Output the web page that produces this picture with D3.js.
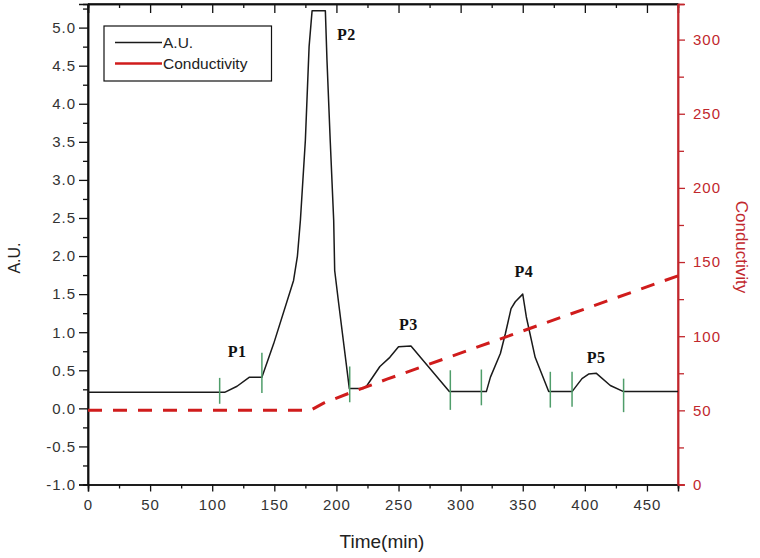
<!DOCTYPE html>
<html>
<head>
<meta charset="utf-8">
<script src="https://cdn.jsdelivr.net/npm/d3@7/dist/d3.min.js"></script>
<style>
  html, body { margin: 0; padding: 0; background: #fff; }
  svg { display: block; }
</style>
</head>
<body>
<svg id="chart" width="760" height="558"></svg>
<script>
// ---------------- data ----------------
const auTime = [0, 110, 120, 130, 140, 149.5, 165.5, 168.6, 171, 175, 178, 180.4, 191.1, 192.4, 195, 197.8, 198.6, 201.8, 210.4, 221.4, 224.6, 235, 243, 250, 260, 290.9, 320.7, 324, 332, 336, 340.6, 344, 350, 352.9, 360, 370.9, 389.7, 397.7, 403, 409.3, 420.5, 431.2, 475];
const auValue = [0.21, 0.21, 0.29, 0.41, 0.41, 0.85, 1.68, 2.0, 2.47, 3.52, 4.75, 5.22, 5.22, 4.57, 3.52, 2.47, 1.81, 1.38, 0.26, 0.26, 0.30, 0.55, 0.67, 0.81, 0.82, 0.22, 0.22, 0.41, 0.72, 0.98, 1.31, 1.40, 1.50, 1.20, 0.67, 0.22, 0.22, 0.39, 0.45, 0.46, 0.30, 0.22, 0.22];

const condTime = [0, 179, 190, 210, 240.7, 463.5, 475];
const condValue = [50, 50, 55, 61.5, 71, 137.3, 140.7];

// fraction-cut markers: time, low/high in A.U.
const markerTime = [106, 140, 210.7, 291.7, 316.7, 372.2, 389.7, 431.2];
const markerLow  = [0.06, 0.20, 0.08, -0.02, 0.04, 0.01, 0.02, -0.05];
const markerHigh = [0.40, 0.73, 0.55, 0.50, 0.51, 0.48, 0.48, 0.39];

// peak labels
const peakNames = ["P1", "P2", "P3", "P4", "P5"];
const peakTime  = [120, 208, 258, 351, 409];
const peakValue = [0.68, 4.84, 1.03, 1.72, 0.60];

const xTicks = [0, 50, 100, 150, 200, 250, 300, 350, 400, 450];
const xMinor = [25, 75, 125, 175, 225, 275, 325, 375, 425, 475];
const yTicks = [-1.0, -0.5, 0.0, 0.5, 1.0, 1.5, 2.0, 2.5, 3.0, 3.5, 4.0, 4.5, 5.0];
const yMinor = [-0.75, -0.25, 0.25, 0.75, 1.25, 1.75, 2.25, 2.75, 3.25, 3.75, 4.25, 4.75, 5.25];
const y2Ticks = [0, 50, 100, 150, 200, 250, 300];
const y2Minor = [25, 75, 125, 175, 225, 275];

const seriesNames = ["A.U.", "Conductivity"];

// ---------------- layout ----------------
const W = 760, H = 558;
const L = 88, R = 678, T = 4, B = 484.5;
const red = "#c1272d";
const textGray = "#333";
const green = "#4f9d6a";

const svg = d3.select("#chart");
const x = d3.scaleLinear().domain([0, 475]).range([L, R]);
const y = d3.scaleLinear().domain([-1, 5.31]).range([B, T]);
const y2 = d3.scaleLinear().domain([0, 324]).range([B, T]);

const fontAxis = "'Liberation Sans', Arial, sans-serif";

function styleAxis(g, color) {
  g.selectAll("path").attr("stroke", color).attr("stroke-width", 1.5);
  g.selectAll("line").attr("stroke", color).attr("stroke-width", 1.3);
  g.selectAll("text").attr("fill", color === "#111" ? textGray : color)
    .style("font-family", fontAxis).style("font-size", "15px").style("letter-spacing", "1px");
}

// bottom axis
const gxMinor = svg.append("g").attr("transform", `translate(0,${B})`)
  .call(d3.axisBottom(x).tickValues(xMinor).tickSize(4).tickFormat(""));
styleAxis(gxMinor, "#111");
const gx = svg.append("g").attr("transform", `translate(0,${B})`)
  .call(d3.axisBottom(x).tickValues(xTicks).tickSize(7).tickPadding(8).tickFormat(d3.format("d")));
styleAxis(gx, "#111");

// top axis (ticks inward)
const gtMinor = svg.append("g").attr("transform", `translate(0,${T})`)
  .call(d3.axisBottom(x).tickValues(xMinor.filter(v => v < 475)).tickSize(4).tickFormat(""));
styleAxis(gtMinor, "#111");
const gt = svg.append("g").attr("transform", `translate(0,${T})`)
  .call(d3.axisBottom(x).tickValues(xTicks).tickSize(9).tickFormat(""));
styleAxis(gt, "#111");

// left axis
const gyMinor = svg.append("g").attr("transform", `translate(${L},0)`)
  .call(d3.axisLeft(y).tickValues(yMinor).tickSize(5).tickFormat(""));
styleAxis(gyMinor, "#111");
const gy = svg.append("g").attr("transform", `translate(${L},0)`)
  .call(d3.axisLeft(y).tickValues(yTicks).tickSize(9).tickPadding(3).tickFormat(d => d.toFixed(1)));
styleAxis(gy, "#111");

// right axis
const gy2Minor = svg.append("g").attr("transform", `translate(${R},0)`)
  .call(d3.axisRight(y2).tickValues(y2Minor).tickSize(6).tickFormat(""));
styleAxis(gy2Minor, red);
const gy2 = svg.append("g").attr("transform", `translate(${R},0)`)
  .call(d3.axisRight(y2).tickValues(y2Ticks).tickSize(7).tickPadding(8).tickFormat(d3.format("d")));
styleAxis(gy2, red);

// extend left/right axis lines to full height
svg.append("line").attr("x1", L).attr("x2", L).attr("y1", T).attr("y2", B).attr("stroke", "#111").attr("stroke-width", 1.5);
svg.append("line").attr("x1", L).attr("x2", R).attr("y1", T).attr("y2", T).attr("stroke", "#111").attr("stroke-width", 1.5);
svg.append("line").attr("x1", R).attr("x2", R).attr("y1", T).attr("y2", B).attr("stroke", red).attr("stroke-width", 1.5);

// ---------------- lines ----------------
const auData = auTime.map((t, i) => [t, auValue[i]]);
const condData = condTime.map((t, i) => [t, condValue[i]]);

svg.append("path").datum(auData)
  .attr("fill", "none").attr("stroke", "#1a1a1a").attr("stroke-width", 1.5)
  .attr("stroke-linejoin", "round")
  .attr("d", d3.line().x(d => x(d[0])).y(d => y(d[1])));

svg.append("path").datum(condData)
  .attr("fill", "none").attr("stroke", "#d01c1c").attr("stroke-width", 3)
  .attr("stroke-dasharray", "14,11")
  .attr("d", d3.line().x(d => x(d[0])).y(d => y2(d[1])));

// markers
svg.append("g").selectAll("line").data(markerTime).join("line")
  .attr("x1", d => x(d)).attr("x2", d => x(d))
  .attr("y1", (d, i) => y(markerLow[i])).attr("y2", (d, i) => y(markerHigh[i]))
  .attr("stroke", green).attr("stroke-width", 1.5);

// peak labels
svg.append("g").selectAll("text").data(peakNames).join("text")
  .attr("x", (d, i) => x(peakTime[i])).attr("y", (d, i) => y(peakValue[i]))
  .attr("text-anchor", "middle")
  .style("font-family", "'Liberation Serif', 'Times New Roman', serif")
  .style("font-weight", "bold").style("font-size", "16px").style("letter-spacing", "0.5px")
  .attr("fill", "#111")
  .text(d => d);

// ---------------- legend ----------------
const lg = svg.append("g");
lg.append("rect").attr("x", 104).attr("y", 26).attr("width", 167.5).attr("height", 55)
  .attr("fill", "#fff").attr("stroke", "#111").attr("stroke-width", 1.2);
const legColors = ["#1a1a1a", "#d01c1c"];
const legY = [42.5, 63.5];
seriesNames.forEach((name, i) => {
  lg.append("line").attr("x1", 115).attr("x2", 162).attr("y1", legY[i]).attr("y2", legY[i])
    .attr("stroke", legColors[i]).attr("stroke-width", i === 0 ? 1.5 : 2.5);
  lg.append("text").attr("x", 163).attr("y", legY[i] + 5.5)
    .style("font-family", fontAxis).style("font-size", "15.5px")
    .attr("fill", "#222").text(name);
});

// ---------------- titles ----------------
svg.append("text")
  .attr("transform", `translate(20,258) rotate(-90)`)
  .attr("text-anchor", "middle")
  .style("font-family", fontAxis).style("font-size", "16px")
  .attr("fill", "#222").text("A.U.");

svg.append("text")
  .attr("transform", `translate(736,247) rotate(90)`)
  .attr("text-anchor", "middle")
  .style("font-family", fontAxis).style("font-size", "17px")
  .attr("fill", red).text("Conductivity");

svg.append("text")
  .attr("x", 382).attr("y", 548)
  .attr("text-anchor", "middle")
  .style("font-family", fontAxis).style("font-size", "19px")
  .attr("fill", "#222").text("Time(min)");
</script>
</body>
</html>
